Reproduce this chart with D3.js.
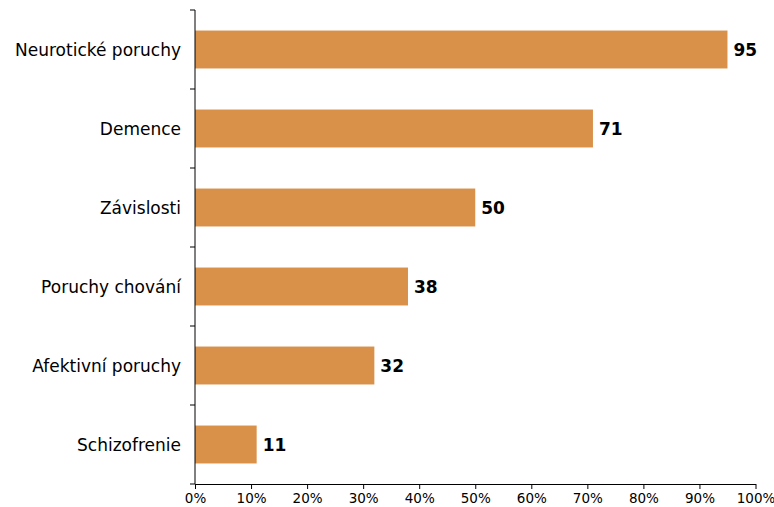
<!DOCTYPE html>
<html>
<head>
<meta charset="utf-8">
<script src="https://cdn.jsdelivr.net/npm/d3@7"></script>
<style>
  body { margin: 0; background: #fff; }
  svg { display: block; font-family: "DejaVu Sans", Verdana, sans-serif; }
</style>
</head>
<body>
<svg id="chart" width="774" height="507"></svg>
<script>
// Share of cases by diagnosis group (percent)
const categories = ["Neurotické poruchy", "Demence", "Závislosti", "Poruchy chování", "Afektivní poruchy", "Schizofrenie"];
const values = [95, 71, 50, 38, 32, 11];
const tickValues = [0, 10, 20, 30, 40, 50, 60, 70, 80, 90, 100];

const svg = d3.select("#chart");
const plotLeft = 195, plotRight = 755.5, plotTop = 10, plotBottom = 484;

const x = d3.scaleLinear().domain([0, 100]).range([plotLeft, plotRight]);
const y = d3.scaleBand().domain(categories).range([plotTop, plotBottom]).paddingInner(0.52).paddingOuter(0.26);

// Bars
svg.append("g").selectAll("rect")
  .data(values)
  .join("rect")
  .attr("x", x(0))
  .attr("y", (d, i) => y(categories[i]))
  .attr("width", d => x(d) - x(0))
  .attr("height", y.bandwidth())
  .attr("fill", "#D9914A");

// Value labels
svg.append("g").selectAll("text")
  .data(values)
  .join("text")
  .attr("x", d => x(d) + 6)
  .attr("y", (d, i) => y(categories[i]) + y.bandwidth() / 2)
  .attr("dy", "0.36em")
  .attr("font-size", 17)
  .attr("font-weight", "bold")
  .attr("fill", "#000")
  .text(d => d);

// X axis
const xAxis = svg.append("g")
  .attr("transform", `translate(0,${plotBottom})`)
  .call(d3.axisBottom(x).tickValues(tickValues).tickFormat(d => d + "%").tickSize(5).tickSizeOuter(0));
xAxis.select(".domain").attr("stroke", "#000");
xAxis.selectAll(".tick text")
  .attr("font-size", 13.5)
  .attr("font-family", "DejaVu Sans, Verdana, sans-serif")
  .attr("y", 19)
  .attr("dy", 0)
  .attr("fill", "#000");

// Y axis: ticks at category boundaries, labels centred on bars
const yAxis = svg.append("g").attr("transform", `translate(${x(0)},0)`);
yAxis.append("line")
  .attr("x1", 0).attr("x2", 0).attr("y1", plotTop).attr("y2", plotBottom)
  .attr("stroke", "#000");
const step = (plotBottom - plotTop) / categories.length;
yAxis.selectAll("line.tick")
  .data(d3.range(categories.length + 1))
  .join("line")
  .attr("class", "tick")
  .attr("x1", -5).attr("x2", 0)
  .attr("y1", i => plotTop + i * step).attr("y2", i => plotTop + i * step)
  .attr("stroke", "#000");
yAxis.selectAll("text")
  .data(categories)
  .join("text")
  .attr("x", -14)
  .attr("y", d => y(d) + y.bandwidth() / 2)
  .attr("dy", "0.36em")
  .attr("text-anchor", "end")
  .attr("font-size", 17)
  .attr("fill", "#000")
  .text(d => d);
</script>
</body>
</html>
